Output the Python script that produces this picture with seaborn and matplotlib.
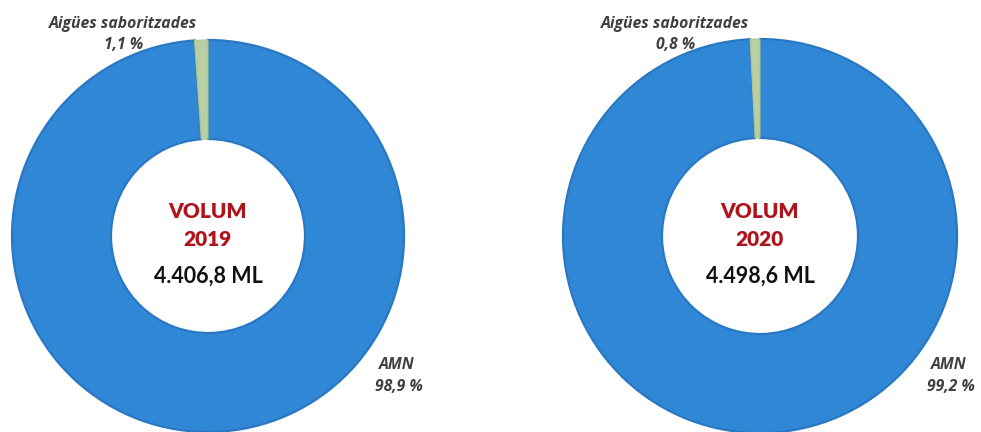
import matplotlib
matplotlib.use("Agg")
import matplotlib.pyplot as plt
import seaborn as sns

# Volume share by product type, two years
years = ["2019", "2020"]
totals = ["4.406,8 ML", "4.498,6 ML"]
categories = ["AMN", "Aigües saboritzades"]
share_amn = [98.9, 99.2]
share_flavoured = [1.1, 0.8]
share_labels_amn = ["98,9 %", "99,2 %"]
share_labels_flavoured = ["1,1 %", "0,8 %"]

sns.set_theme(style="white")
plt.rcParams["font.family"] = ["Lato", "DejaVu Sans"]

blue = "#2F87D6"
blue_edge = "#2A78C2"
green = "#B7CFA2"
label_color = "#404040"

W, H = 981, 432
fig = plt.figure(figsize=(W / 100, H / 100), dpi=100)
ax = fig.add_axes([0, 0, 1, 1])

centers = [(208, 196), (760, 196)]
radii = [196, 197]
ring_width = 99

label_kw = dict(ha="center", va="center", fontsize=11.3, fontweight="bold",
                fontstyle="italic", color=label_color, family=["Open Sans", "DejaVu Sans"])

for i, (cx, cy) in enumerate(centers):
    vals = [share_amn[i], share_flavoured[i]]
    wedges, _ = ax.pie(
        vals,
        colors=[blue, green],
        startangle=90,
        counterclock=False,
        center=(cx, cy),
        radius=radii[i],
        wedgeprops=dict(width=ring_width, edgecolor=blue_edge, linewidth=1.6),
        frame=True,
    )
    wedges[1].set_edgecolor("#A9C493")
    wedges[1].set_linewidth(0.8)

    # centre titles
    ax.text(cx, H - 212, "VOLUM", ha="center", va="center",
            fontsize=15, fontweight="heavy", color="#B0141B")
    ax.text(cx, H - 240, years[i], ha="center", va="center",
            fontsize=15, fontweight="heavy", color="#B0141B")
    ax.text(cx, H - 276, totals[i], ha="center", va="center",
            fontsize=15.5, fontweight="bold", color="#111111")

    # slice labels
    ax.text(cx - 85, H - 24, categories[1], **label_kw)
    ax.text(cx - 84, H - 45, share_labels_flavoured[i], **label_kw)
    ax.text(cx + 189, H - 365, categories[0], **label_kw)
    ax.text(cx + 191, H - 387, share_labels_amn[i], **label_kw)

ax.set_xlim(0, W)
ax.set_ylim(0, H)
ax.set_aspect("equal")
ax.axis("off")
fig.savefig("out.png", dpi=100)
